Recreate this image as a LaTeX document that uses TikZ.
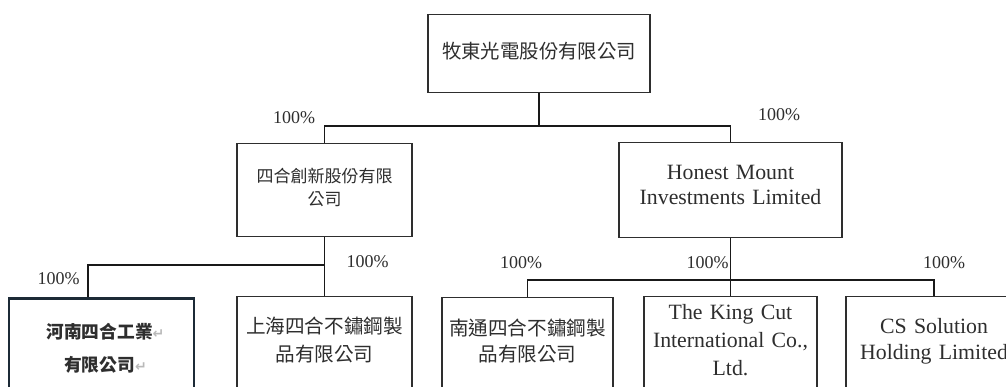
\documentclass[tikz,border=0pt]{standalone}
\usepackage{fontspec}
\setmainfont{Liberation Serif}
\newfontfamily\cjk{Noto Sans CJK TC}
\newfontfamily\symf{DejaVu Sans}
\usepackage{tikz}
\usetikzlibrary{calc}
\definecolor{ink}{HTML}{2E2E2E}
\definecolor{edgedark}{HTML}{1C2A36}
\newcommand{\retmark}{{\symf\fontsize{14}{14}\selectfont\color{gray!55}↵}}

\begin{document}
\begin{tikzpicture}[x=1pt,y=-1pt,
  box/.style={draw=ink,line width=1.4pt,anchor=north,inner sep=0pt,align=center,text=ink},
  link/.style={draw=black!90,line width=1.8pt},
  pct/.style={text=ink,inner sep=0pt,font=\fontsize{18}{20}\selectfont}]
  \useasboundingbox (0,0) rectangle (1006,387);
  \clip (0,0) rectangle (1006,387);
  \fill[white] (0,0) rectangle (1006,387);
  % parent
  \node[box,text width=222pt,text height=43.4pt,text depth=34.6pt,font=\fontsize{19.4}{24}\selectfont\cjk] (top) at (539,14) {牧東光電股份有限公司};
  % first level
  \node[box,text width=175pt,text height=38.5pt,text depth=54.5pt,font=\fontsize{17}{23}\selectfont\cjk] (sh) at (324.5,143) {四合創新股份有限\\公司};
  \node[box,text width=223pt,text height=37.2pt,text depth=57.8pt,font=\fontsize{21.8}{25}\selectfont] (hm) at (730.5,142) {Honest Mount\\Investments Limited};
  % second level
  \node[box,draw=edgedark,line width=2.6pt,text width=185pt,text height=39.7pt,text depth=110pt,font=\fontsize{17.7}{33}\selectfont\cjk\bfseries] (hn) at (101.5,297) {\hspace*{8pt}河南四合工業\retmark\\\hspace*{8pt}有限公司\retmark};
  \node[box,text width=175pt,text height=36.4pt,text depth=110pt,font=\fontsize{19.6}{28}\selectfont\cjk] (sx) at (324.5,296) {上海四合不鏽鋼製\\品有限公司};
  \node[box,text width=171pt,text height=37.4pt,text depth=110pt,font=\fontsize{19.6}{26}\selectfont\cjk] (nt) at (527.5,297) {南通四合不鏽鋼製\\品有限公司};
  \node[box,text width=173pt,text height=23.2pt,text depth=110pt,font=\fontsize{21.8}{28}\selectfont] (kc) at (730.5,296) {The King Cut\\International Co.,\\Ltd.};
  \node[box,text width=176pt,text height=37.2pt,text depth=110pt,font=\fontsize{21.8}{26}\selectfont] (cs) at (934,296) {CS Solution\\Holding Limited};
  % links
  \coordinate (b1) at (539,126);
  \coordinate (b2) at (324.5,265);
  \coordinate (b3) at (730.5,280);
  \draw[link] (top.south) -- (b1);
  \draw[link] (sh.north) |- (b1) -| (hm.north);
  \draw[link] (sh.south) -- (sx.north);
  \draw[link] (b2) -| ([xshift=-13.5pt]hn.north);
  \draw[link] (hm.south) -- (kc.north);
  \draw[link] (nt.north) |- (b3) -| (cs.north);
  % shares
  \node[pct] (p1) at (294,118) {100\%};
  \node[pct] (p2) at (779,115) {100\%};
  \node[pct] (p3) at (58.5,279) {100\%};
  \node[pct] (p4) at (367.5,262) {100\%};
  \node[pct] (p5) at (521,263) {100\%};
  \node[pct] (p6) at (707.5,263) {100\%};
  \node[pct] (p7) at (944,263) {100\%};
\end{tikzpicture}
\end{document}
